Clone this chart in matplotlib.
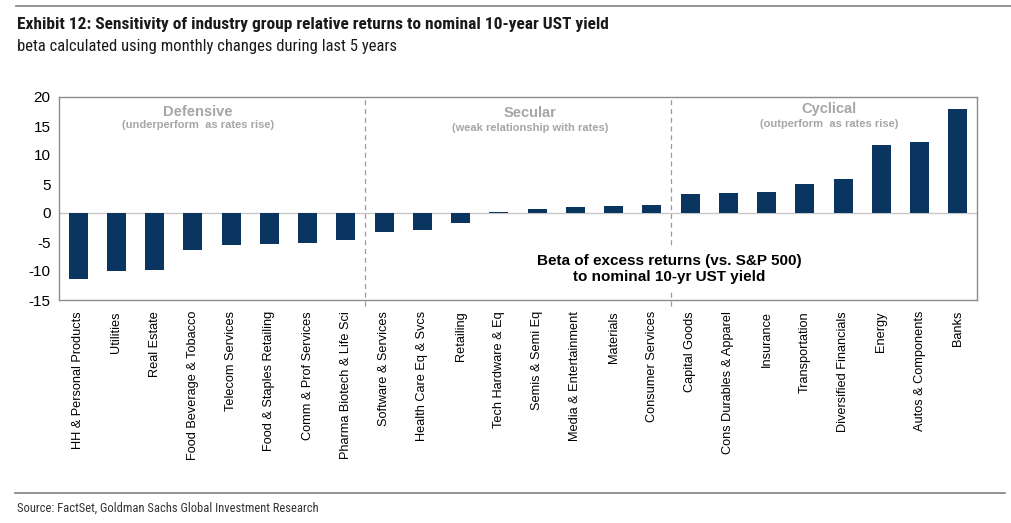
import numpy as np
import matplotlib
matplotlib.use("Agg")
import matplotlib.pyplot as plt
from matplotlib import font_manager

# industry groups, sorted by beta
groups = ["HH & Personal Products", "Utilities", "Real Estate", "Food Beverage & Tobacco",
          "Telecom Services", "Food & Staples Retailing", "Comm & Prof Services",
          "Pharma Biotech & Life Sci", "Software & Services", "Health Care Eq & Svcs",
          "Retailing", "Tech Hardware & Eq", "Semis & Semi Eq", "Media & Entertainment",
          "Materials", "Consumer Services", "Capital Goods", "Cons Durables & Apparel",
          "Insurance", "Transportation", "Diversified Financials", "Energy",
          "Autos & Components", "Banks"]
beta = [-11.3, -9.95, -9.8, -6.3, -5.6, -5.4, -5.2, -4.7, -3.2, -3.0,
        -1.8, 0.2, 0.7, 1.0, 1.15, 1.4, 3.3, 3.5, 3.7, 4.95, 5.9, 11.8, 12.2, 17.9]
yticks = [-15, -10, -5, 0, 5, 10, 15, 20]

# bucket headers: (name, note, x centre, y name, y note)
buckets = [("Defensive", "(underperform  as rates rise)", 3.13, 17.5, 15.2),
           ("Secular", "(weak relationship with rates)", 11.81, 17.3, 14.7),
           ("Cyclical", "(outperform  as rates rise)", 19.63, 18.0, 15.4)]
splits = [7.5, 15.5]


# look for a condensed face for the header / footer (Univers Condensed look)
def find_narrow(bold):
    files = [f.fname for f in font_manager.fontManager.ttflist]
    prefs = ["RobotoCondensed", "LiberationSansNarrow", "DejaVuSansCondensed",
             "Condensed", "Narrow"]
    for p in prefs:
        for fn in sorted(files):
            base = fn.split("/")[-1].replace("-", "").replace("_", "")
            if p.replace("-", "") not in base:
                continue
            isbold = "Bold" in base
            if isbold == bold and "Italic" not in base and "Oblique" not in base:
                return font_manager.FontProperties(fname=fn)
    return font_manager.FontProperties(family="DejaVu Sans", stretch="condensed",
                                       weight="bold" if bold else "normal")


plt.rcParams['font.family'] = ['Liberation Sans', 'DejaVu Sans']
fp_bold = find_narrow(True)
fp_reg = find_narrow(False)

fig = plt.figure(figsize=(10.12, 5.23), dpi=100)
ax = fig.add_axes([59/1012, 1 - 300/523, (977 - 59)/1012, (300 - 97)/523])

x = np.arange(len(groups))
ax.bar(x, beta, width=0.5, color="#0b3561", zorder=3)
ax.axhline(0, color="#c8c8c8", lw=1, zorder=2)

for s in splits:
    ax.axvline(s, ymin=-0.03, ymax=1, color="#9a9a9a", lw=0.9, ls=(0, (4, 3)),
               clip_on=False, zorder=1)

ax.set_xlim(-0.5, len(groups) - 0.5)
ax.set_ylim(-15, 20)
ax.set_yticks(yticks)
ax.set_yticklabels([str(v) for v in yticks], fontsize=11)
ax.set_xticks(x)
ax.set_xticklabels(groups, rotation=90, fontsize=9.2, va="top", ha="center")
ax.tick_params(length=0, pad=6)
ax.tick_params(axis="x", pad=8)
for sp in ax.spines.values():
    sp.set_color("#8c8c8c")
    sp.set_linewidth(1)

for name, note, bx, y1, y2 in buckets:
    ax.text(bx, y1, name, ha="center", va="center", fontsize=10.5, weight="bold",
            color="#a6a6a6")
    ax.text(bx, y2, note, ha="center", va="center", fontsize=8, weight="bold",
            color="#a6a6a6")

ax.text(15.45, -9.7, "Beta of excess returns (vs. S&P 500)\nto nominal 10-yr UST yield",
        ha="center", va="center", fontsize=11, weight="bold", color="black",
        linespacing=1.15, zorder=4,
        bbox=dict(facecolor="white", edgecolor="none", pad=6))

# header and footer
fig.add_artist(plt.Line2D([16/1012, 1], [1 - 6/523] * 2, color="#7f7f7f", lw=1.2))
t = fig.text(17/1012, 1 - 24/523,
             "Exhibit 12: Sensitivity of industry group relative returns to nominal 10-year UST yield",
             fontproperties=fp_bold, va="center", color="#1a1a1a")
t.set_fontsize(12.5)
t = fig.text(17/1012, 1 - 46/523, "beta calculated using monthly changes during last 5 years",
             fontproperties=fp_reg, va="center", color="#1a1a1a")
t.set_fontsize(12)
fig.add_artist(plt.Line2D([15/1012, 1005/1012], [1 - 493/523] * 2, color="#7f7f7f", lw=1.2))
t = fig.text(17/1012, 1 - 508/523, "Source: FactSet, Goldman Sachs Global Investment Research",
             fontproperties=fp_reg, va="center", color="#333333")
t.set_fontsize(9)

fig.savefig("out.png", dpi=100)
